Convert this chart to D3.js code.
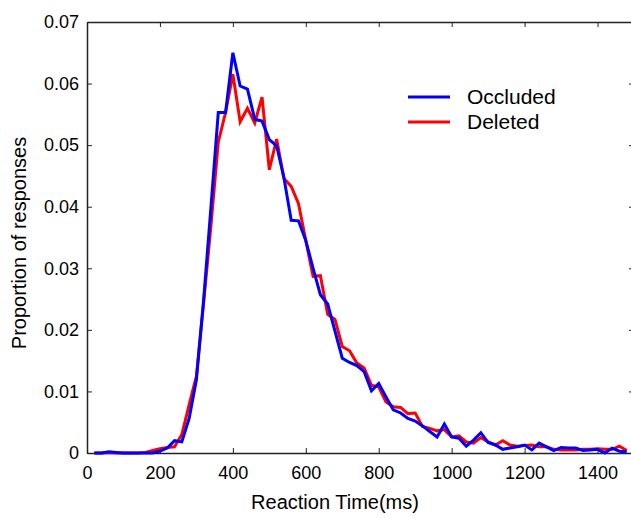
<!DOCTYPE html>
<html>
<head>
<meta charset="utf-8">
<script src="https://cdn.jsdelivr.net/npm/d3@7"></script>
<style>
  body { margin: 0; background: #fff; }
  svg { display: block; font-family: "Liberation Sans", Arial, sans-serif; }
</style>
</head>
<body>
<svg id="chart"></svg>
<script>
// reaction time bins (ms)
let times = d3.range(20, 1500, 20);

let occluded = [
  0, 0, 0.0002, 0.0001, 0, 0, 0, 0, 0, 0.0003,
  0.0008, 0.002, 0.0018, 0.0056, 0.0119, 0.025, 0.040, 0.0553, 0.0553, 0.065,
  0.0596, 0.0591, 0.0542, 0.0539, 0.0509, 0.0499, 0.0447, 0.0378, 0.0377, 0.0345,
  0.030, 0.0257, 0.0242, 0.0198, 0.0154, 0.0147, 0.0142, 0.0132, 0.0101, 0.0113,
  0.0091, 0.0070, 0.0065, 0.0056, 0.0052, 0.0044, 0.0035, 0.0026, 0.0047, 0.0026,
  0.0024, 0.0011, 0.0021, 0.0033, 0.0017, 0.0013, 0.0006, 0.0008, 0.001, 0.0013,
  0.0005, 0.0016, 0.001, 0.0004, 0.0009, 0.0008, 0.0008, 0.0004, 0.0005, 0.0006,
  0.0000, 0.0008, 0.0003, 0.0002
];

let deleted = [
  0, 0, 0.0001, 0, 0, 0, 0, 0.0001, 0.0004, 0.0007,
  0.0009, 0.001, 0.003, 0.0078, 0.0125, 0.0245, 0.037, 0.0505, 0.0553, 0.0615,
  0.0538, 0.056, 0.0536, 0.0578, 0.046, 0.051, 0.0446, 0.0433, 0.0405, 0.0345,
  0.0287, 0.0288, 0.0225, 0.0217, 0.0173, 0.0166, 0.0146, 0.0138, 0.011, 0.0107,
  0.0083, 0.0075, 0.0074, 0.0064, 0.0065, 0.0043, 0.004, 0.0036, 0.0038, 0.0026,
  0.0028, 0.0018, 0.0016, 0.0025, 0.0018, 0.0013, 0.002, 0.0013, 0.0011, 0.0012,
  0.0013, 0.001, 0.001, 0.0006, 0.0005, 0.0005, 0.0005, 0.0006, 0.0006, 0.0007,
  0.0006, 0.0006, 0.0011, 0.0004
];

let xTicks = [0, 200, 400, 600, 800, 1000, 1200, 1400];
let yTicks = [0, 0.01, 0.02, 0.03, 0.04, 0.05, 0.06, 0.07];
let seriesNames = ["Occluded", "Deleted"];
let seriesColors = ["#0000ff", "#ff0000"];

function chartConfig(){
  let width = 631;
  let height = 518;
  let margin = {top: 22, bottom: 65, left: 87, right: -3};
  let bodyWidth = width - margin.left - margin.right;
  let bodyHeight = height - margin.top - margin.bottom;
  let container = d3.select("#chart")
    .attr("width", width)
    .attr("height", height);
  return {width, height, margin, bodyWidth, bodyHeight, container};
}

function chartScales(config){
  let {bodyWidth, bodyHeight} = config;
  let xScale = d3.scaleLinear().domain([0, 1500]).range([0, bodyWidth]);
  let yScale = d3.scaleLinear().domain([0, 0.07]).range([bodyHeight, 0]);
  return {xScale, yScale};
}

function fmtY(d){ return d === 0 ? "0" : d3.format(".2f")(d); }
function fmtX(d){ return String(d); }

function drawAxes(config, scales){
  let {margin, container, bodyWidth, bodyHeight} = config;
  let {xScale, yScale} = scales;
  let body = container.append("g")
    .attr("transform", `translate(${margin.left},${margin.top})`);

  let bottom = body.append("g")
    .attr("transform", `translate(0,${bodyHeight})`)
    .call(d3.axisBottom(xScale).tickValues(xTicks).tickSizeInner(-5).tickSizeOuter(0).tickPadding(13).tickFormat(fmtX));
  let top = body.append("g")
    .call(d3.axisTop(xScale).tickValues(xTicks).tickSizeInner(-5).tickSizeOuter(0).tickFormat(""));
  let left = body.append("g")
    .call(d3.axisLeft(yScale).tickValues(yTicks).tickSizeInner(-5).tickSizeOuter(0).tickPadding(8).tickFormat(fmtY));
  let right = body.append("g")
    .attr("transform", `translate(${bodyWidth},0)`)
    .call(d3.axisRight(yScale).tickValues(yTicks).tickSizeInner(-5).tickSizeOuter(0).tickFormat(""));

  [bottom, top, left, right].forEach(a => {
    a.selectAll(".domain").attr("stroke", "#222").attr("stroke-width", 1.5);
    a.selectAll(".tick line").attr("stroke", "#222").attr("stroke-width", 1);
    a.selectAll("text").attr("font-size", 18).attr("fill", "#000")
      .attr("font-family", "Liberation Sans, Arial, sans-serif");
  });
  return body;
}

function drawLines(body, scales){
  let {xScale, yScale} = scales;
  let line = d3.line()
    .x((d, i) => xScale(times[i]))
    .y(d => yScale(d));
  // red underneath, blue on top
  body.append("path").datum(deleted)
    .attr("d", line).attr("fill", "none")
    .attr("stroke", seriesColors[1]).attr("stroke-width", 3)
    .attr("stroke-linejoin", "miter");
  body.append("path").datum(occluded)
    .attr("d", line).attr("fill", "none")
    .attr("stroke", seriesColors[0]).attr("stroke-width", 3)
    .attr("stroke-linejoin", "miter");
}

function drawLabels(config){
  let {container} = config;
  container.append("text")
    .attr("x", 335).attr("y", 509)
    .attr("text-anchor", "middle")
    .attr("font-size", 20)
    .text("Reaction Time(ms)");
  container.append("text")
    .attr("transform", "translate(26,243) rotate(-90)")
    .attr("text-anchor", "middle")
    .attr("font-size", 20)
    .text("Proportion of responses");

  let legend = container.append("g");
  seriesNames.forEach((name, i) => {
    let y = 97 + i * 25;
    legend.append("line")
      .attr("x1", 408).attr("x2", 450)
      .attr("y1", y).attr("y2", y)
      .attr("stroke", seriesColors[i]).attr("stroke-width", 3);
    legend.append("text")
      .attr("x", 467).attr("y", y + 7)
      .attr("font-size", 21)
      .text(name);
  });
}

let config = chartConfig();
let scales = chartScales(config);
let body = drawAxes(config, scales);
drawLines(body, scales);
drawLabels(config);
</script>
</body>
</html>
